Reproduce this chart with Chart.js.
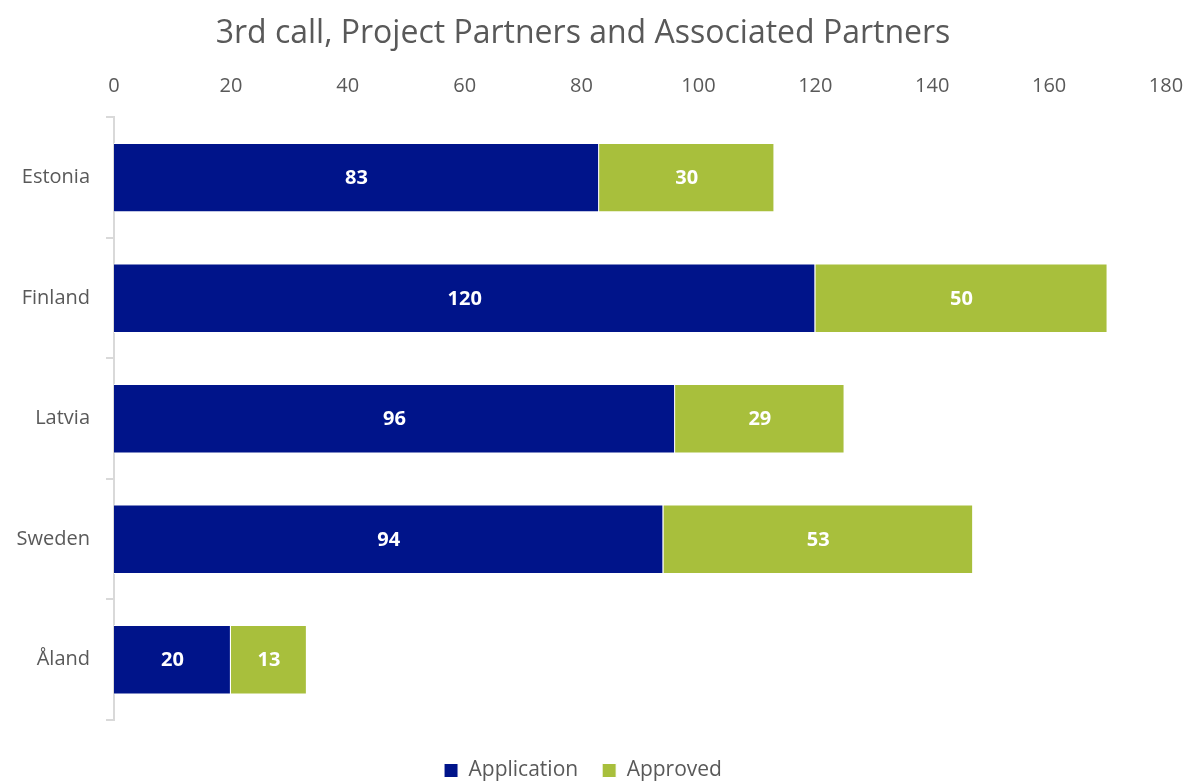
<!DOCTYPE html>
<html>
<head>
<meta charset="utf-8">
<script src="https://cdn.jsdelivr.net/npm/chart.js@4/dist/chart.umd.min.js"></script>
<style>
  html, body { margin: 0; padding: 0; background: #fff; }
  #wrap { width: 1188px; height: 783px; }
</style>
</head>
<body>
<div id="wrap"><canvas id="grafico"></canvas></div>
<script>
// Países
const paises = ['Estonia', 'Finland', 'Latvia', 'Sweden', 'Åland'];

// Valores
const application = [83, 120, 96, 94, 20];
const approved = [30, 50, 29, 53, 13];

const FONTE = "'Open Sans', 'Noto Sans', sans-serif";
const CINZA = '#595959';

// Rótulos brancos no meio das barras
const rotulos = {
  id: 'rotulos',
  afterDatasetsDraw(chart) {
    const ctx = chart.ctx;
    ctx.save();
    ctx.fillStyle = '#ffffff';
    ctx.font = 'bold 20px ' + FONTE;
    ctx.textAlign = 'center';
    ctx.textBaseline = 'middle';
    chart.data.datasets.forEach((ds, i) => {
      chart.getDatasetMeta(i).data.forEach((bar, j) => {
        const p = bar.getCenterPoint();
        ctx.fillText(ds.data[j], p.x, p.y + 1);
      });
    });
    ctx.restore();
  }
};

const data = {
  labels: paises,
  datasets: [
    {
      label: 'Application',
      data: application,
      backgroundColor: '#00148A',
      borderColor: '#ffffff',
      borderWidth: 1,
      categoryPercentage: 0.6,
      barPercentage: 0.96
    },
    {
      label: 'Approved',
      data: approved,
      backgroundColor: '#A8BF3C',
      borderColor: '#ffffff',
      borderWidth: 1,
      categoryPercentage: 0.6,
      barPercentage: 0.96
    }
  ]
};

const config = {
  type: 'bar',
  data: data,
  plugins: [rotulos],
  options: {
    indexAxis: 'y',
    responsive: true,
    maintainAspectRatio: false,
    animation: false,
    layout: { padding: { left: 0, right: 22, top: 4, bottom: -8 } },
    plugins: {
      title: {
        display: true,
        text: '3rd call, Project Partners and Associated Partners',
        color: CINZA,
        font: { family: FONTE, size: 32, weight: 'normal' },
        padding: { top: 11, bottom: 21 }
      },
      legend: {
        position: 'bottom',
        // título vazio só para dar espaço acima da legenda
        title: { display: true, text: '', font: { size: 1, lineHeight: 1 }, padding: { top: 15, bottom: 0 } },
        labels: {
          color: CINZA,
          boxWidth: 14,
          boxHeight: 14,
          padding: 24,
          font: { family: FONTE, size: 21 }
        }
      },
      tooltip: { enabled: false }
    },
    scales: {
      x: {
        position: 'top',
        stacked: true,
        min: 0,
        max: 180,
        ticks: {
          stepSize: 20,
          color: CINZA,
          padding: 0,
          font: { family: FONTE, size: 20 }
        },
        grid: { display: false, drawTicks: true, tickLength: 19 },
        border: { display: false }
      },
      y: {
        stacked: true,
        afterFit(scale) { scale.width = 114; },
        ticks: {
          color: CINZA,
          padding: 16,
          font: { family: FONTE, size: 20 }
        },
        grid: {
          offset: true,
          drawOnChartArea: false,
          drawTicks: true,
          tickLength: 8,
          color: '#d9d9d9',
          lineWidth: 2
        },
        border: { display: true, color: '#d9d9d9', width: 2 }
      }
    }
  }
};

new Chart(document.getElementById('grafico'), config);
</script>
</body>
</html>
